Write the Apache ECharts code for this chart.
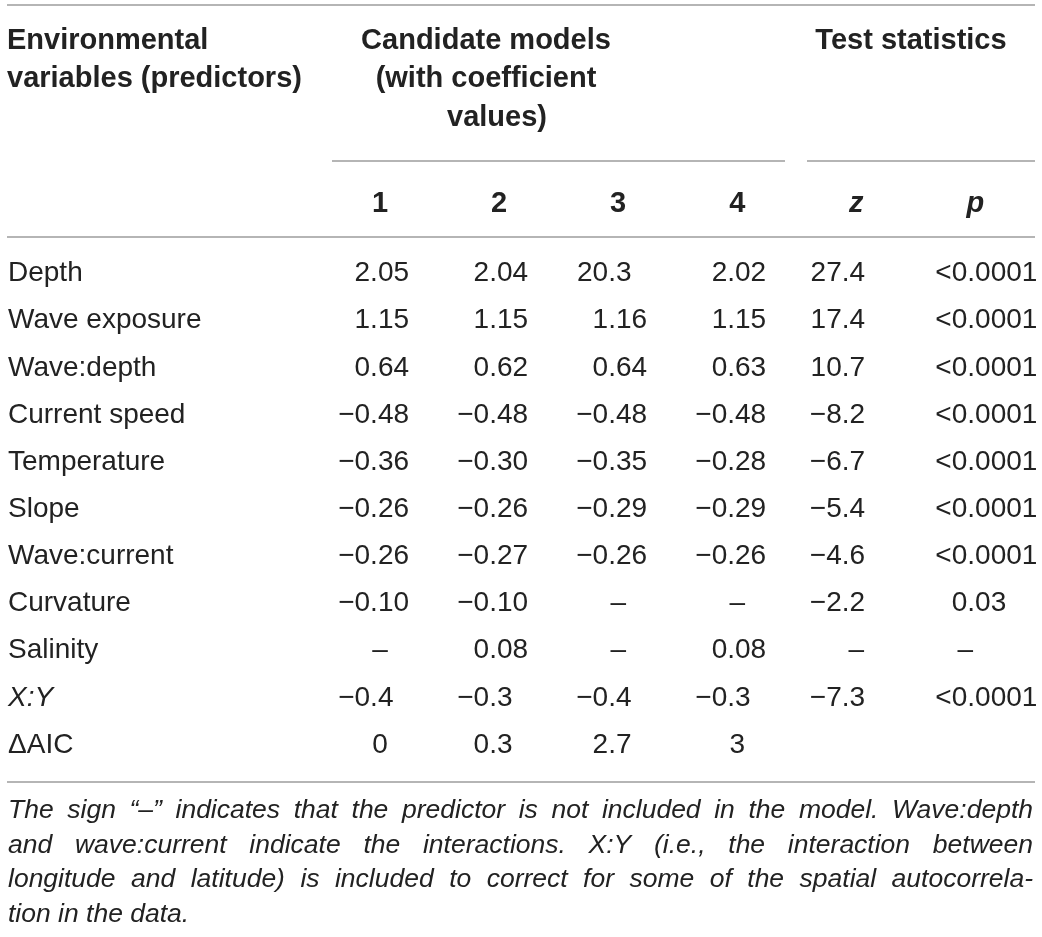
<!DOCTYPE html>
<html>
<head>
<meta charset="utf-8">
<script src="https://cdn.jsdelivr.net/npm/echarts@6/dist/echarts.min.js"></script>
<style>
html,body{margin:0;padding:0;background:#ffffff;}
#chart{width:1042px;height:937px;}
</style>
</head>
<body>
<div id="chart"></div>
<script>
// ---------------- data ----------------
const predictors = ['Depth','Wave exposure','Wave:depth','Current speed','Temperature','Slope','Wave:current','Curvature','Salinity','X:Y','\u0394AIC'];
const columnLabels = ['1','2','3','4','z','p'];
const model1 = ['2.05','1.15','0.64','\u22120.48','\u22120.36','\u22120.26','\u22120.26','\u22120.10','\u2013','\u22120.4','0'];
const model2 = ['2.04','1.15','0.62','\u22120.48','\u22120.30','\u22120.26','\u22120.27','\u22120.10','0.08','\u22120.3','0.3'];
const model3 = ['20.3','1.16','0.64','\u22120.48','\u22120.35','\u22120.29','\u22120.26','\u2013','\u2013','\u22120.4','2.7'];
const model4 = ['2.02','1.15','0.63','\u22120.48','\u22120.28','\u22120.29','\u22120.26','\u2013','0.08','\u22120.3','3'];
const zStat  = ['27.4','17.4','10.7','\u22128.2','\u22126.7','\u22125.4','\u22124.6','\u22122.2','\u2013','\u22127.3',''];
const pValue = ['<0.0001','<0.0001','<0.0001','<0.0001','<0.0001','<0.0001','<0.0001','0.03','\u2013','<0.0001',''];
const headerPredictor = ['Environmental','variables (predictors)'];
const headerModels = ['Candidate models','(with coefficient','values)'];
const headerTests = ['Test statistics'];
const footnoteLines = [
  'The sign \u201c\u2013\u201d indicates that the predictor is not included in the model. Wave:depth',
  'and wave:current indicate the interactions. X:Y (i.e., the interaction between',
  'longitude and latitude) is included to correct for some of the spatial autocorrela-',
  'tion in the data.'
];

// ---------------- styles / layout ----------------
const FAMILY = '"Liberation Sans", Arial, Helvetica, sans-serif';
const TEXT = '#222222';
const RULE = '#9c9c9c';
const BODY_SIZE = 28;
const HEAD_SIZE = 29;
const NOTE_SIZE = 26.5;
const decimalShift = [-10, -10, -10, -10, -14.5, -8];
const dashShift = [0, 0, 0, 0, 0, -10];

const columns = [model1, model2, model3, model4, zStat, pValue];
const cells = [];
columns.forEach((vals, c) => vals.forEach((v, r) => cells.push({col: c, row: r, text: v})));

const bodyFont = BODY_SIZE + 'px ' + FAMILY;

function renderCell(params, api) {
  const cell = cells[params.dataIndex];
  const s = cell.text;
  if (!s) return null;
  const pt = api.coord([api.value(0), api.value(1)]);
  const base = {fill: TEXT, font: bodyFont, verticalAlign: 'middle', textVerticalAlign: 'middle'};
  const dot = s.indexOf('.');
  if (dot < 0) {
    const dx = s === '\u2013' ? dashShift[cell.col] : 0;
    return {type: 'text', x: pt[0] + dx, y: pt[1],
      style: Object.assign({text: s, align: 'center', textAlign: 'center'}, base)};
  }
  const ax = pt[0] + decimalShift[cell.col];
  return {type: 'group', children: [
    {type: 'text', x: ax, y: pt[1], style: Object.assign({text: s.slice(0, dot), align: 'right', textAlign: 'right'}, base)},
    {type: 'text', x: ax, y: pt[1], style: Object.assign({text: s.slice(dot), align: 'left', textAlign: 'left'}, base)}
  ]};
}

// ---------------- graphics (rules, headers, footnote) ----------------
const measureCtx = document.createElement('canvas').getContext('2d');
function textWidth(str, font) { measureCtx.font = font; return measureCtx.measureText(str).width; }

function gText(str, x, y, font, align) {
  return {type: 'text', x: x, y: y, silent: true,
    style: {text: str, font: font, fill: TEXT, align: align, textAlign: align,
            verticalAlign: 'middle', textVerticalAlign: 'middle'}};
}
function gLine(x1, y, x2) {
  return {type: 'line', silent: true, shape: {x1: x1, y1: y, x2: x2, y2: y},
    style: {stroke: RULE, lineWidth: 1.6}};
}

const headFont = 'bold ' + HEAD_SIZE + 'px ' + FAMILY;
const noteFont = 'italic ' + NOTE_SIZE + 'px ' + FAMILY;
const graphics = [];
graphics.push(gLine(7, 5, 1035));
graphics.push(gLine(332, 161, 785));
graphics.push(gLine(807, 161, 1035));
graphics.push(gLine(7, 237, 1035));
graphics.push(gLine(7, 782, 1035));

const headLineY = [41, 79, 117.5];
headerPredictor.forEach((t, i) => graphics.push(gText(t, 7, headLineY[i], headFont, 'left')));
const modelsCenterX = [486, 486, 497];
headerModels.forEach((t, i) => graphics.push(gText(t, modelsCenterX[i], headLineY[i], headFont, 'center')));
headerTests.forEach((t, i) => graphics.push(gText(t, 911, headLineY[i], headFont, 'center')));

const noteY = [811, 845.5, 880, 914.5];
const noteLeft = 8, noteRight = 1033;
footnoteLines.forEach((line, i) => {
  if (i === footnoteLines.length - 1) {
    graphics.push(gText(line, noteLeft, noteY[i], noteFont, 'left'));
    return;
  }
  const words = line.split(' ');
  const widths = words.map(w => textWidth(w, noteFont));
  const total = widths.reduce((a, b) => a + b, 0);
  const gap = (noteRight - noteLeft - total) / (words.length - 1);
  let x = noteLeft;
  words.forEach((w, k) => {
    graphics.push(gText(w, x, noteY[i], noteFont, 'left'));
    x += widths[k] + gap;
  });
});

// ---------------- chart ----------------
const chart = echarts.init(document.getElementById('chart'), null, {renderer: 'canvas'});
const option = {
  animation: false,
  backgroundColor: '#ffffff',
  grid: {left: 320.6, right: 7.2, top: 249.9, bottom: 168.4, containLabel: false, outerBoundsMode: 'none'},
  xAxis: {
    type: 'category', position: 'top', data: columnLabels,
    axisLine: {show: false}, axisTick: {show: false}, splitLine: {show: false},
    axisLabel: {
      interval: 0, margin: 46, verticalAlign: 'middle',
      fontFamily: FAMILY, fontSize: HEAD_SIZE, fontWeight: 'bold', color: TEXT,
      formatter: v => (v === 'z' || v === 'p') ? '{it|' + v + '}' : v,
      rich: {it: {fontFamily: FAMILY, fontSize: HEAD_SIZE, fontWeight: 'bold', fontStyle: 'italic', color: TEXT}}
    }
  },
  yAxis: {
    type: 'category', inverse: true, data: predictors,
    axisLine: {show: false}, axisTick: {show: false}, splitLine: {show: false},
    axisLabel: {
      interval: 0, align: 'left', margin: 312.6, verticalAlign: 'middle',
      fontFamily: FAMILY, fontSize: BODY_SIZE, color: TEXT,
      formatter: v => v === 'X:Y' ? '{it|X:Y}' : v,
      rich: {it: {fontFamily: FAMILY, fontSize: BODY_SIZE, fontStyle: 'italic', color: TEXT}}
    }
  },
  series: [{
    type: 'custom',
    name: 'cells',
    data: cells.map(c => [c.col, c.row]),
    encode: {x: 0, y: 1},
    renderItem: renderCell,
    silent: true,
    clip: false
  }],
  graphic: {elements: graphics}
};
chart.setOption(option);
</script>
</body>
</html>
